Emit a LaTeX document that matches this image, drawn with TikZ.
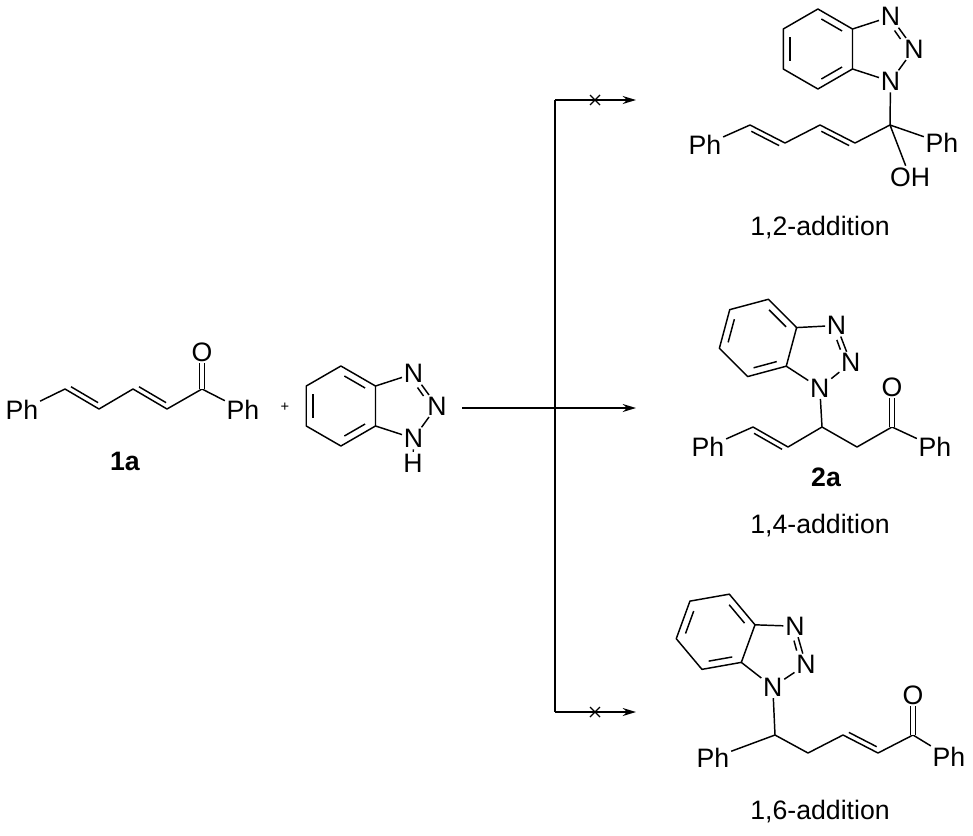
\documentclass[tikz,border=0pt]{standalone}
\usepackage{fontspec}
\setmainfont{Liberation Sans}
\usetikzlibrary{calc,arrows.meta}
\tikzset{
 atom/.style={inner sep=1.2pt,font=\fontsize{20}{22}\selectfont},
 lbl/.style={font=\fontsize{20}{22}\selectfont},
 bond/.style={line width=1.1pt},
 cdo/.style={double,double distance=3pt,line width=1.1pt},
 rx/.style={line width=1.1pt,-{Stealth[length=10pt,width=6pt]}},
 bt/.pic={
  \coordinate (-c) at (0,0);
  \node[atom] (-N1) at (72:34) {N};
  \node[atom] (-N2) at (0:34) {N};
  \node[atom] (-N3) at (288:34) {N};
  \coordinate (-a) at (216:34);
  \coordinate (-b) at (144:34);
  \coordinate (-bc) at (-62.1,0);
  \coordinate (-c4) at ($(-bc)+(270:40)$);
  \coordinate (-c5) at ($(-bc)+(210:40)$);
  \coordinate (-c6) at ($(-bc)+(150:40)$);
  \coordinate (-c7) at ($(-bc)+(90:40)$);
  \draw[bond,line join=round] (-a)--(-c4)--(-c5)--(-c6)--(-c7)--(-b)--cycle;
  \draw[bond] (-a)--(-N3) (-N3)--(-N2) (-N2)--(-N1) (-N1)--(-b);
  \draw[bond,shorten <=3pt,shorten >=3pt] ($(-bc)!0.8!(-a)$)--($(-bc)!0.8!(-c4)$);
  \draw[bond,shorten <=3pt,shorten >=3pt] ($(-bc)!0.8!(-c5)$)--($(-bc)!0.8!(-c6)$);
  \draw[bond,shorten <=3pt,shorten >=3pt] ($(-bc)!0.8!(-c7)$)--($(-bc)!0.8!(-b)$);
  \draw[bond] (14.5,-18.5)--(20.5,-10);
 }
}
\newcommand\dbl[3]{\draw[bond,shorten <=3pt,shorten >=3pt] ($(#1)!3.75pt!#3:(#2)$) -- ($(#2)!3.75pt!-#3:(#1)$);}
\begin{document}
\begin{tikzpicture}[x=0.75pt,y=-0.75pt]
\useasboundingbox (0,0) rectangle (973,835);
% 1a
\node[atom] (ph1) at (22,410) {Ph};
\coordinate (c1) at (65,389);
\coordinate (c2) at (99,409);
\coordinate (c3) at (133,389);
\coordinate (c4) at (167,409);
\coordinate (c5) at (202,389);
\node[atom] (o1) at (202,352) {O};
\node[atom] (ph2) at (243,410) {Ph};
\draw[bond,line join=round] (ph1)--(c1)--(c2)--(c3)--(c4)--(c5)--(ph2);
\dbl{c1}{c2}{90}
\dbl{c3}{c4}{90}
\draw[cdo] (c5)--(o1);
\node[lbl,font=\fontsize{20}{22}\selectfont\bfseries] (l1a) at (125,461) {1a};
\node[font=\fontsize{11}{12}\selectfont] (plus) at (285,407) {+};
% benzotriazole
\pic (r) at (403,406) {bt};
\node[atom] (rH) at (413,463) {H};
\draw[bond] (r-N1)--(rH);
% arrows
\coordinate (s) at (462,408);
\coordinate (e) at (636,408);
\coordinate (vt) at (555,100);
\coordinate (vb) at (555,712);
\coordinate (et) at (636,100);
\coordinate (eb) at (636,712);
\draw[rx] (s)--(e);
\draw[bond] (vt)--(vb);
\draw[rx] (vt)--(et);
\draw[rx] (vb)--(eb);
\coordinate (x1) at (595,100);
\coordinate (x2) at (595,712);
\foreach \x in {x1,x2}{\draw[line width=0.9pt] ($(\x)+(-5,-5)$)--($(\x)+(5,5)$) ($(\x)+(-5,5)$)--($(\x)+(5,-5)$);}
% top product
\pic (t) at (880,49) {bt};
\coordinate (tq) at (890,125);
\node[atom] (toh) at (910,177) {OH};
\node[atom] (tph) at (942,143) {Ph};
\coordinate (ta) at (855,143);
\coordinate (tb) at (820,125);
\coordinate (tc) at (785,143);
\coordinate (td) at (750,125);
\node[atom] (tph2) at (705,145) {Ph};
\draw[bond] (t-N1)--(tq) (tq)--(toh) (tq)--(tph);
\draw[bond,line join=round] (tq)--(ta)--(tb)--(tc)--(td)--(tph2);
\dbl{ta}{tb}{90}
\dbl{tc}{td}{90}
\node[lbl] (tl) at (820,228) {1,2-addition};
% middle product
\pic[rotate=-15] (m) at (818,354) {bt};
\coordinate (mq) at (822,427);
\coordinate (mc) at (857,447);
\coordinate (mk) at (892,427);
\node[atom] (mo) at (892,387) {O};
\node[atom] (mph) at (935,447) {Ph};
\coordinate (ma) at (788,447);
\coordinate (mb) at (753,427);
\node[atom] (mph2) at (708,447) {Ph};
\draw[bond] (m-N1)--(mq);
\draw[bond,line join=round] (mph2)--(mb)--(ma)--(mq)--(mc)--(mk)--(mph);
\dbl{mb}{ma}{-90}
\draw[cdo] (mk)--(mo);
\node[lbl,font=\fontsize{20}{22}\selectfont\bfseries] (l2a) at (826,477) {2a};
\node[lbl] (ml) at (820,526) {1,4-addition};
% bottom product
\pic[rotate=-20] (b) at (774,653) {bt};
\coordinate (bq) at (775,735);
\node[atom] (bph) at (713,758) {Ph};
\coordinate (bc2) at (808,753);
\coordinate (bd) at (843,735);
\coordinate (be) at (878,753);
\coordinate (bk) at (913,735);
\node[atom] (bo) at (913,695) {O};
\node[atom] (bph2) at (949,757) {Ph};
\draw[bond] (b-N1)--(bq);
\draw[bond,line join=round] (bph)--(bq)--(bc2)--(bd)--(be)--(bk)--(bph2);
\dbl{bd}{be}{90}
\draw[cdo] (bk)--(bo);
\node[lbl] (bl) at (820,812) {1,6-addition};
\end{tikzpicture}
\end{document}
